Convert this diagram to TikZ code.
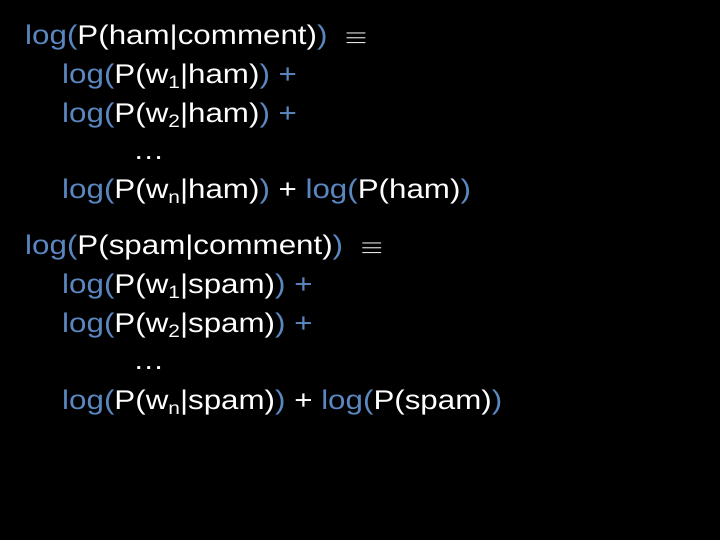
\documentclass[tikz,border=0pt]{standalone}
\usepackage{fontspec}
\setmainfont{Liberation Sans}
\definecolor{lb}{HTML}{5B87C0}
\newcommand{\B}[1]{\textcolor{lb}{#1}}
\newcommand{\Sb}[1]{\raisebox{-0.35ex}{\fontsize{18}{20}\selectfont #1}}
\begin{document}
\begin{tikzpicture}[x=1pt,y=1pt,line/.style={anchor=base west,inner sep=0pt,text=white,xscale=1.16,font=\fontsize{27}{32}\selectfont}]
\fill[black] (0,0) rectangle (720,540);
\useasboundingbox (0,0) rectangle (720,540);
\node[line] (a1) at (25,495) {\B{log(}P(ham|comment)\B{)} \ $\equiv$};
\node[line] (a2) at (62,456) {\B{log(}P(w\Sb{1}|ham)\B{) +}};
\node[line] (a3) at (62,417) {\B{log(}P(w\Sb{2}|ham)\B{) +}};
\node[line] (a4) at (133,380) {…};
\node[line] (a5) at (62,341) {\B{log(}P(w\Sb{n}|ham)\B{)} + \B{log(}P(ham)\B{)}};
\node[line] (b1) at (25,285) {\B{log(}P(spam|comment)\B{)} \ $\equiv$};
\node[line] (b2) at (62,246) {\B{log(}P(w\Sb{1}|spam)\B{) +}};
\node[line] (b3) at (62,207) {\B{log(}P(w\Sb{2}|spam)\B{) +}};
\node[line] (b4) at (133,170) {…};
\node[line] (b5) at (62,130) {\B{log(}P(w\Sb{n}|spam)\B{)} + \B{log(}P(spam)\B{)}};
\end{tikzpicture}
\end{document}
